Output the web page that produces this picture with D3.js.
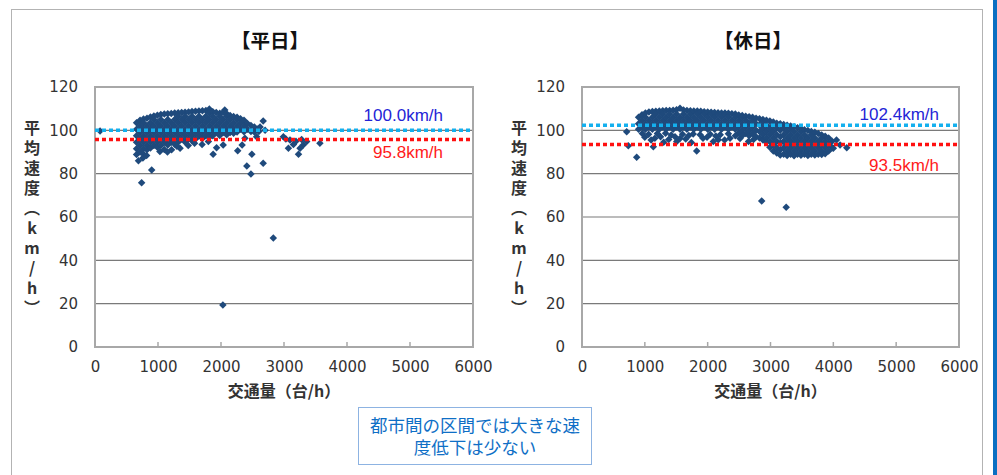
<!DOCTYPE html>
<html>
<head>
<meta charset="utf-8">
<script src="https://cdn.jsdelivr.net/npm/d3@7"></script>
<style>
  body { margin: 0; background: #fff; }
  svg { display: block; }
  .tick text { font-family: "DejaVu Sans", sans-serif; font-size: 15px; fill: #333; }
</style>
</head>
<body>
<div class="graphHolder"></div>
<script>
// axis ticks
let speedTicks = [0, 20, 40, 60, 80, 100, 120],
  flowTicks = [0, 1000, 2000, 3000, 4000, 5000, 6000];

// 平日 dense part : [交通量, [平均速度...]]
let weekdayCols = [
  [660, [103.5, 100.5, 97.5, 94.5, 91.5, 88.8]],
  [715, [104.6, 102, 99, 96, 93, 90]],
  [770, [105.2, 103.5, 100.5, 97.5, 94.5, 91.5, 89]],
  [825, [105.6, 102, 99, 96, 93, 91]],
  [880, [106.2, 103.5, 100.5, 97.5, 94.5, 91.8]],
  [935, [106.6, 105, 102, 99, 96, 93]],
  [990, [107, 103.5, 100.5, 97.5, 94.5, 92.2]],
  [1045, [107.3, 105, 102, 99, 96, 93]],
  [1100, [107.5, 103.5, 100.5, 97.5, 94.5]],
  [1155, [107.6, 105, 102, 99, 96, 93.2]],
  [1210, [107.8, 103.5, 100.5, 97.5, 94.5]],
  [1265, [108, 105, 102, 99, 96, 93.6]],
  [1320, [108.1, 106.5, 103.5, 100.5, 97.5, 94.5]],
  [1375, [108.2, 105, 102, 99, 96]],
  [1430, [108.4, 106.5, 103.5, 100.5, 97.5, 94.6]],
  [1485, [108.5, 105, 102, 99, 96]],
  [1540, [108.7, 106.5, 103.5, 100.5, 97.5, 95.2]],
  [1595, [108.8, 105, 102, 99, 96]],
  [1650, [108.9, 106.5, 103.5, 100.5, 97.5]],
  [1705, [109, 105, 102, 99, 96.2]],
  [1760, [109.1, 106.5, 103.5, 100.5, 97.5]],
  [1815, [109.8, 108, 105, 102, 99, 96.8]],
  [1870, [108.6, 106.5, 103.5, 100.5, 97.5]],
  [1925, [108.2, 105, 102, 99]],
  [1980, [107.9, 106.5, 103.5, 100.5, 97.6]],
  [2035, [108.4, 105, 102, 99]],
  [2060, [109.4]],
  [2090, [107.6, 106.5, 103.5, 100.5, 98]],
  [2145, [106.9, 105, 102, 99]],
  [2200, [106.4, 103.5, 100.5, 98.6]],
  [2255, [106, 105, 102, 99.2]],
  [2310, [105.4, 103.5, 100.5]],
  [2365, [104.6, 102, 99.3]],
  [2420, [103.2, 100.5]],
  [2475, [102.2, 99.5]],
  [2530, [101.5, 99.2]],
  [2585, [100.6]]
];

// 平日 scattered points : [交通量, 平均速度]
let weekdayScatter = [
  [80, 99.7], [740, 75.8], [900, 81.7], [1030, 90.2], [1215, 91], [1350, 91.7], [1300, 92.6],
  [1100, 91.2], [1480, 93], [1800, 94.8], [1875, 89], [1930, 92], [2035, 93.2], [2265, 90.6],
  [2335, 93.2], [2380, 96.3], [2410, 83.5], [2490, 89], [2475, 79.8], [2565, 97], [2600, 99.5],
  [2670, 104.3], [2670, 84.8], [2700, 100], [2620, 101.5], [690, 86], [760, 87.2], [820, 88.4],
  [1150, 90], [1580, 94], [1700, 93.5],
  [2990, 97], [3095, 95.5], [3070, 91.7], [3230, 89], [3305, 93.2], [3360, 94.8], [3570, 94],
  [3150, 93.5], [3255, 91.7], [3030, 96], [3190, 95], [3280, 95.8],
  [2830, 50.3], [2030, 19.4]
];

// 休日 dense part : [交通量, [平均速度...]]
let holidayCols = [
  [900, [106, 103, 100.5]],
  [955, [107.2, 104.5, 101.5]],
  [1010, [108, 106, 103, 100.5]],
  [1065, [108.5, 104.5, 101.5]],
  [1120, [108.7, 106, 103, 100.5]],
  [1175, [108.8, 107.5, 104.5, 101.5]],
  [1230, [108.9, 106, 103, 100.5]],
  [1285, [109, 107.5, 104.5, 101.5]],
  [1340, [109.1, 106, 103, 100.5]],
  [1395, [109.2, 107.5, 104.5, 101.5]],
  [1450, [109.3, 106, 103, 100.5]],
  [1505, [109.5, 107.5, 104.5, 101.5]],
  [1560, [110.2, 106, 103, 100.5]],
  [1615, [109.4, 107.5, 104.5, 101.5]],
  [1670, [109.2, 106, 103, 100.5]],
  [1725, [109, 107.5, 104.5, 101.5]],
  [1780, [108.9, 106, 103, 100.5]],
  [1835, [108.9, 107.5, 104.5, 101.5]],
  [1890, [108.8, 106, 103, 100.5]],
  [1945, [108.6, 107.5, 104.5, 101.5]],
  [2000, [108.5, 106, 103, 100.5]],
  [2055, [108.3, 107.5, 104.5, 101.5]],
  [2110, [108.2, 106, 103, 100.5]],
  [2165, [108.1, 107.5, 104.5, 101.5]],
  [2220, [108, 106, 103, 100.5]],
  [2275, [108, 107.5, 104.5, 101.5]],
  [2330, [107.9, 106, 103, 100.5]],
  [2385, [107.7, 104.5, 101.5]],
  [2440, [107.5, 106, 103, 100.5]],
  [2495, [107.1, 104.5, 101.5, 98.8]],
  [2550, [106.8, 106, 103, 100]],
  [2605, [106.5, 104.5, 101.5, 98.5]],
  [2660, [106.3, 103, 100, 97.5]],
  [2715, [106, 104.5, 101.5, 98.5]],
  [2770, [105.6, 103, 100, 97]],
  [2825, [105.3, 102.5, 99.5, 96.5]],
  [2880, [105, 104, 101, 98, 95.5]],
  [2935, [104.7, 102.5, 99.5, 96.5, 94.5]],
  [2990, [104.3, 101, 98, 95, 92.2]],
  [3045, [103.8, 102.5, 99.5, 96.5, 93.5, 90.5]],
  [3100, [103.3, 101, 98, 95, 92, 89.5]],
  [3155, [103, 100, 97, 94, 91, 88.6]],
  [3210, [102.7, 101, 98, 95, 92, 89]],
  [3265, [102.4, 99.5, 96.5, 93.5, 90.5, 88.4]],
  [3320, [102, 101, 98, 95, 92, 89]],
  [3375, [101.6, 99.5, 96.5, 93.5, 90.5, 88.3]],
  [3430, [101.2, 98, 95, 92, 89]],
  [3485, [100.7, 99.5, 96.5, 93.5, 90.5, 88.5]],
  [3540, [100.3, 98, 95, 92, 89]],
  [3595, [99.9, 96.5, 93.5, 90.5, 88.4]],
  [3650, [99.5, 98, 95, 92, 89]],
  [3705, [99.1, 96.5, 93.5, 90.5, 88.6]],
  [3760, [98.5, 95, 92, 89]],
  [3815, [97.9, 96.5, 93.5, 90.5, 88.8]],
  [3870, [97.3, 95, 92, 89.2]],
  [3925, [96.5, 93.5, 90.5]],
  [3980, [95, 92]]
];

// 休日 scattered points : [交通量, 平均速度]
let holidayScatter = [
  [711, 99.4], [737, 92.9], [870, 87.6], [1135, 92.4], [1825, 90.5], [1508, 94.8], [2090, 94.8],
  [4000, 91.7], [4107, 93.2], [4214, 92], [4050, 95.5], [1000, 96.8], [1250, 97], [1650, 96],
  [1300, 94.5], [960, 98.5], [1200, 98.5], [1420, 97.8], [1600, 98.2], [1926, 96.3], [2040, 98.2],
  [2200, 98], [2356, 96.3], [2440, 97.5], [2515, 96.2], [1770, 98.3], [2270, 95.5], [1380, 95.8],
  [1100, 95.5], [2650, 94.8],
  [1060, 98.2], [1160, 96.4], [1330, 98.6], [1480, 97], [1560, 96.2], [1700, 97.6], [1880, 98],
  [1990, 96.8], [2130, 97.4], [2330, 98.4], [2560, 97.8], [2730, 95.8], [1740, 94.4], [2170, 95.6],
  [2860, 67.4], [3250, 64.5]
];

// average speeds: [上の線(青), 下の線(赤)]
let weekdayAvg = [100.0, 95.8],
  holidayAvg = [102.4, 93.5];

let panelTitles = ["【平日】", "【休日】"],
  yLabel = "平均速度（km/h）",
  xLabel = "交通量（台/h）",
  noteLines = ["都市間の区間では大きな速", "度低下は少ない"];

let W = 997, H = 475,
  plotTop = 87, plotH = 260;

let svg = d3.select(".graphHolder")
  .append("svg")
  .attr("width", W)
  .attr("height", H);

// outer dotted frame and blue side bar
svg.append("rect")
  .attr("x", 11.5).attr("y", 9.5)
  .attr("width", 971).attr("height", 480)
  .attr("fill", "none")
  .attr("stroke", "#666")
  .attr("stroke-width", 1)
  .attr("stroke-dasharray", "1,1");

svg.append("rect")
  .attr("x", 993).attr("y", 0)
  .attr("width", 4).attr("height", H)
  .attr("fill", "#0a6fc2");

function flatten(cols, scatter) {
  let pts = [];
  cols.forEach(c => c[1].forEach(s => pts.push([c[0], s])));
  return pts.concat(scatter);
}

function drawPanel(points, avg, title, left, width, titleX, labelRight, labelDy) {
  let x = d3.scaleLinear().domain([0, 6000]).range([left, left + width]);
  let y = d3.scaleLinear().domain([0, 120]).range([plotTop + plotH, plotTop]);

  svg.append("text")
    .attr("x", titleX).attr("y", 48)
    .attr("text-anchor", "middle")
    .style("font-family", "'Noto Sans CJK JP', sans-serif")
    .style("font-weight", "bold")
    .style("font-size", "19.5px")
    .attr("fill", "#111")
    .text(title);

  // gridlines
  svg.append("g")
    .selectAll("line")
    .data(speedTicks.filter(d => d > 0 && d < 120))
    .enter()
    .append("line")
    .attr("x1", x(0)).attr("x2", x(6000))
    .attr("y1", d => y(d)).attr("y2", d => y(d))
    .attr("stroke", "#7a7a7a")
    .attr("stroke-width", 1.2);

  // plot frame
  svg.append("rect")
    .attr("x", x(0)).attr("y", y(120))
    .attr("width", x(6000) - x(0)).attr("height", y(0) - y(120))
    .attr("fill", "none")
    .attr("stroke", "#a8a8a8")
    .attr("stroke-width", 2);

  // inner ticks on the bottom
  svg.append("g")
    .selectAll("line")
    .data(flowTicks.slice(1, -1))
    .enter()
    .append("line")
    .attr("x1", d => x(d)).attr("x2", d => x(d))
    .attr("y1", y(0)).attr("y2", y(0) - 5)
    .attr("stroke", "#a8a8a8")
    .attr("stroke-width", 1.5);

  let yAxis = d3.axisLeft(y).tickValues(speedTicks).tickSize(0).tickPadding(17);
  svg.append("g")
    .attr("transform", "translate(" + x(0) + ",0)")
    .call(yAxis)
    .call(g => g.select(".domain").remove());

  let xAxis = d3.axisBottom(x).tickValues(flowTicks).tickSize(0).tickPadding(14).tickFormat(d3.format("d"));
  svg.append("g")
    .attr("transform", "translate(0," + y(0) + ")")
    .call(xAxis)
    .call(g => g.select(".domain").remove());

  svg.append("text")
    .attr("x", x(3000)).attr("y", 397)
    .attr("text-anchor", "middle")
    .style("font-family", "'Noto Sans CJK JP', sans-serif")
    .style("font-weight", "bold")
    .style("font-size", "16px")
    .attr("fill", "#333")
    .text(xLabel);

  // vertical y label
  svg.append("text")
    .attr("x", x(0) - 63).attr("y", 120)
    .style("writing-mode", "vertical-rl")
    .style("text-orientation", "upright")
    .style("font-family", "'Noto Sans CJK JP', sans-serif")
    .style("font-weight", "bold")
    .style("font-size", "16px")
    .style("letter-spacing", "4px")
    .attr("fill", "#333")
    .text(yLabel);

  // points
  let diamond = d3.symbol().type(d3.symbolSquare).size(28);
  svg.append("g")
    .selectAll("path")
    .data(points)
    .enter()
    .append("path")
    .attr("d", diamond)
    .attr("transform", d => "translate(" + x(d[0]) + "," + y(d[1]) + ") rotate(45)")
    .attr("fill", "#1f4a7c");

  // average lines
  let lineColors = ["#14b0ee", "#ff1010"];
  svg.append("g")
    .selectAll("line")
    .data(avg)
    .enter()
    .append("line")
    .attr("x1", x(0)).attr("x2", x(6000))
    .attr("y1", d => y(d)).attr("y2", d => y(d))
    .attr("stroke", (d, i) => lineColors[i])
    .attr("stroke-width", 3.5)
    .attr("stroke-dasharray", "4,3");

  let labelColors = ["#2424d6", "#ff1a1a"];
  svg.append("g")
    .selectAll("text")
    .data(avg)
    .enter()
    .append("text")
    .attr("x", labelRight)
    .attr("y", (d, i) => y(d) + labelDy[i])
    .attr("text-anchor", "end")
    .style("font-family", "'Liberation Sans', sans-serif")
    .style("font-size", "17px")
    .attr("fill", (d, i) => labelColors[i])
    .text(d => d.toFixed(1) + "km/h");
}

drawPanel(flatten(weekdayCols, weekdayScatter), weekdayAvg, panelTitles[0], 95, 378, 270, 443, [-9.5, 19]);
drawPanel(flatten(holidayCols, holidayScatter), holidayAvg, panelTitles[1], 582, 377, 753, 939, [-5, 26.5]);

// note box
svg.append("rect")
  .attr("x", 358.5).attr("y", 407.5)
  .attr("width", 233).attr("height", 57)
  .attr("fill", "#fff")
  .attr("stroke", "#8db3e2")
  .attr("stroke-width", 1);

svg.append("g")
  .selectAll("text")
  .data(noteLines)
  .enter()
  .append("text")
  .attr("x", 475)
  .attr("y", (d, i) => 432 + i * 22)
  .attr("text-anchor", "middle")
  .style("font-family", "'Liberation Sans', 'Noto Sans CJK JP', sans-serif")
  .style("font-size", "17.5px")
  .attr("fill", "#0f6fc6")
  .text(d => d);
</script>
</body>
</html>
